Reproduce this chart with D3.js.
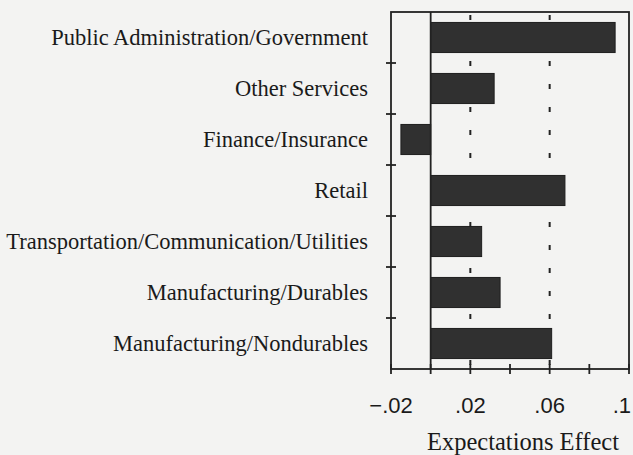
<!DOCTYPE html>
<html>
<head>
<meta charset="utf-8">
<script src="https://cdn.jsdelivr.net/npm/d3@7"></script>
<style>
  body { margin: 0; background: #f3f3f2; }
  svg { display: block; }
</style>
</head>
<body>
<div id="chart"></div>
<script>
// industries, top to bottom
var categories = [
  'Public Administration/Government',
  'Other Services',
  'Finance/Insurance',
  'Retail',
  'Transportation/Communication/Utilities',
  'Manufacturing/Durables',
  'Manufacturing/Nondurables'
];
var effects = [0.093, 0.032, -0.015, 0.0677, 0.0257, 0.035, 0.061];

var tick_values  = [-0.02, 0, 0.02, 0.04, 0.06, 0.08, 0.1];
var tick_labels  = ['\u2212.02', '', '.02', '', '.06', '', '.1'];
var dashed_at    = [0.02, 0.06];

var chart_width  = 633;
var chart_height = 455;
var plot_left = 391, plot_right = 629, plot_top = 12, plot_bottom = 369;

var svg = d3.select('#chart')
    .append('svg')
    .attr('width', chart_width)
    .attr('height', chart_height);

var x_scale = d3.scaleLinear()
    .domain([-0.02, 0.1])
    .range([plot_left, plot_right]);

var y_scale = d3.scaleBand()
    .domain(categories)
    .range([plot_top, plot_bottom])
    .paddingInner(0.41)
    .paddingOuter(0.205);

var y_bounds = d3.scaleLinear()
    .domain([0, categories.length])
    .range([plot_top, plot_bottom]);

// dashed reference lines
svg.selectAll('.ref')
    .data(dashed_at)
    .enter()
    .append('line')
    .attr('x1', function(d){ return x_scale(d); })
    .attr('x2', function(d){ return x_scale(d); })
    .attr('y1', plot_top + 3)
    .attr('y2', plot_bottom)
    .attr('stroke', '#222')
    .attr('stroke-width', 2)
    .attr('stroke-dasharray', '5,18');

// bars
svg.selectAll('rect.bar')
    .data(effects)
    .enter()
    .append('rect')
    .attr('class', 'bar')
    .attr('x', function(d){ return x_scale(Math.min(0, d)); })
    .attr('y', function(d, i){ return y_scale(categories[i]); })
    .attr('width', function(d){ return Math.abs(x_scale(d) - x_scale(0)); })
    .attr('height', y_scale.bandwidth())
    .attr('fill', '#303030')
    .attr('stroke', '#1e1e1e')
    .attr('stroke-width', 1);

// frame
svg.append('rect')
    .attr('x', plot_left)
    .attr('y', plot_top)
    .attr('width', plot_right - plot_left)
    .attr('height', plot_bottom - plot_top)
    .attr('fill', 'none')
    .attr('stroke', '#222')
    .attr('stroke-width', 1.8);

// zero line
svg.append('line')
    .attr('x1', x_scale(0))
    .attr('x2', x_scale(0))
    .attr('y1', plot_top)
    .attr('y2', plot_bottom)
    .attr('stroke', '#222')
    .attr('stroke-width', 1.8);

// y ticks between categories
var y_ticks = d3.range(1, categories.length);
svg.selectAll('.ytick')
    .data(y_ticks)
    .enter()
    .append('line')
    .attr('x1', plot_left - 5)
    .attr('x2', plot_left + 5)
    .attr('y1', function(d){ return y_bounds(d); })
    .attr('y2', function(d){ return y_bounds(d); })
    .attr('stroke', '#222')
    .attr('stroke-width', 1.8);

// x ticks
svg.selectAll('.xtick')
    .data(tick_values)
    .enter()
    .append('line')
    .attr('x1', function(d){ return x_scale(d); })
    .attr('x2', function(d){ return x_scale(d); })
    .attr('y1', plot_bottom - 5)
    .attr('y2', plot_bottom + 5)
    .attr('stroke', '#222')
    .attr('stroke-width', 1.8);

svg.selectAll('.xlabel')
    .data(tick_values)
    .enter()
    .append('text')
    .text(function(d, i){ return tick_labels[i]; })
    .attr('x', function(d){ return x_scale(d); })
    .attr('y', 413)
    .attr('text-anchor', function(d, i){ return i === tick_values.length - 1 ? 'end' : 'middle'; })
    .attr('dx', function(d, i){ return i === tick_values.length - 1 ? 2 : 0; })
    .attr('font-family', 'Liberation Sans, Arial, sans-serif')
    .attr('font-size', 22)
    .attr('fill', '#1a1a1a');

// category labels
svg.selectAll('.ylabel')
    .data(categories)
    .enter()
    .append('text')
    .text(function(d){ return d; })
    .attr('x', 368)
    .attr('y', function(d){ return y_scale(d) + y_scale.bandwidth() / 2; })
    .attr('dy', '0.35em')
    .attr('text-anchor', 'end')
    .attr('font-family', 'Liberation Serif, Times New Roman, serif')
    .attr('font-size', 22.5)
    .attr('fill', '#1a1a1a');

// axis title
svg.append('text')
    .text('Expectations Effect')
    .attr('x', 523)
    .attr('y', 450)
    .attr('text-anchor', 'middle')
    .attr('font-family', 'Liberation Serif, Times New Roman, serif')
    .attr('font-size', 24.5)
    .attr('fill', '#1a1a1a');
</script>
</body>
</html>
